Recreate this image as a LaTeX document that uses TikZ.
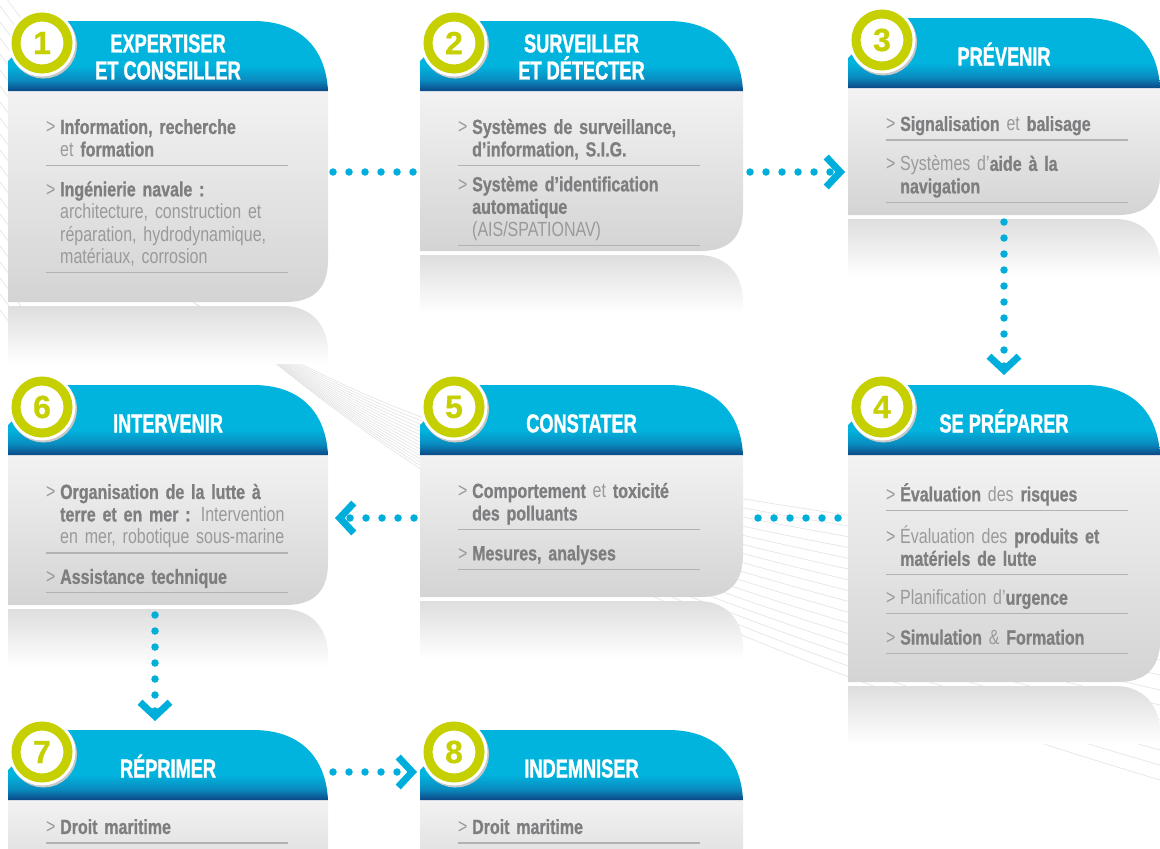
\documentclass[tikz,border=0pt]{standalone}
\usepackage{fontspec}
\setmainfont{Liberation Sans}[FakeStretch=0.78, BoldFeatures={FakeBold=0.8}]
\newfontfamily\titrefont{Liberation Sans}[FakeStretch=0.7, BoldFeatures={FakeBold=1.2}]
\newfontfamily\chiffrefont{Liberation Sans}[BoldFeatures={FakeBold=0.8}]
\usetikzlibrary{arrows.meta,positioning}

\definecolor{cyanvif}{HTML}{00B4DE}
\definecolor{bleumoyen}{HTML}{0A8CC0}
\definecolor{bleufonce}{HTML}{0C4886}
\definecolor{anis}{HTML}{C6D000}
\definecolor{gristexte}{HTML}{9A9A9C}
\definecolor{grisfonce}{HTML}{7E7E80}
\definecolor{pointcyan}{HTML}{00AEDB}

\pgfdeclareverticalshading{entete}{100bp}{color(0bp)=(bleufonce); color(25bp)=(bleufonce); color(33bp)=(bleumoyen); color(43bp)=(cyanvif); color(100bp)=(cyanvif)}

\newcommand\gras[1]{{\bfseries\color{grisfonce}#1}}

\tikzset{
  chevron/.tip={Straight Barb[length=14pt,width=30pt,line width=7pt,sharp]},
  trame/.style={draw=black!10, line width=0.7pt},
  reflet/.style={top color=black!13, bottom color=white},
  corps/.style={top color=black!5, bottom color=black!17},
  bandeau/.style={shading=entete},
  cadre/.style={rectangle, inner sep=0pt, outer sep=0pt, anchor=north west},
  numero/.style={circle, minimum size=52pt, inner sep=0pt, fill=white, draw=anis,
    line width=9pt, text=anis, font=\chiffrefont\bfseries\fontsize{32}{32}\selectfont,
    preaction={draw=black!22, line width=15pt, transform canvas={shift={(1.5pt,-2pt)}}},
    preaction={draw=white, line width=15pt}},
  titre/.style={text=white, align=center, font=\titrefont\bfseries\fontsize{26}{27}\selectfont,
    execute at begin node={\vphantom{É}}},
  puce/.style={anchor=north west, text width=250pt, inner xsep=0pt, inner ysep=2pt,
    text=gristexte, font=\fontsize{20.5}{22.5}\selectfont,
    execute at begin node={\raggedright\leftskip=14pt\relax\noindent\strut\hspace*{-14pt}\makebox[14pt][l]{>}},
    execute at end node={\strut}},
  filet/.style={draw=black!30, line width=1.3pt},
  pointille/.style={draw=pointcyan, line width=7.5pt, line cap=round, dash pattern=on 0pt off 16pt}
}

\newcommand\carte[7]{%
  \shade[reflet] ({#2},{#5+4}) -- ({#2+#4-45},{#5+4}) .. controls ({#2+#4-15},{#5+4}) and ({#2+#4},{#5+25}) .. ({#2+#4},{#5+50}) -- ({#2+#4},{#5+62}) -- ({#2},{#5+62}) -- cycle;
  \shade[corps] ({#2},{#3+70}) -- ({#2+#4},{#3+70}) -- ({#2+#4},{#5-42}) .. controls ({#2+#4},{#5-14}) and ({#2+#4-14},{#5}) .. ({#2+#4-42},{#5}) -- ({#2},{#5}) -- cycle;
  \shade[bandeau] ({#2},{#3+70}) -- ({#2},{#3+40}) -- ({#2+40},{#3}) -- ({#2+#4-75},{#3}) .. controls ({#2+#4-25},{#3}) and ({#2+#4-2},{#3+30}) .. ({#2+#4},{#3+70}) -- cycle;
  \node[cadre, minimum width={#4*1pt}, minimum height={(#5-#3)*1pt}] (#1) at (#2,#3) {};
  \node[numero] (#1-num) at ({#2+34},{#3+22}) {#6};
  \node[titre] (#1-titre) at ({#2+#4/2},{#3+36}) {#7};
  \coordinate (#1-haut) at ({#2+38},{#3+70});
}

\begin{document}
\begin{tikzpicture}[x=1pt,y=-1pt,node distance=13pt]
\useasboundingbox (0,0) rectangle (1160,849);
\clip (0,0) rectangle (1160,849);
\foreach \i in {0,...,20}
  \draw[trame] (0,{\i*16-10}) -- (24,{\i*16+22});
\foreach \i in {0,...,15}
  \draw[trame] ({190+\i*3},{300+\i*2}) .. controls (450,{465+\i*3}) and (660,{495+\i*9}) .. (1160,{555+\i*15});

\carte{expertiser}{8}{21}{320}{302}{1}{EXPERTISER\\ET CONSEILLER}
\carte{surveiller}{420}{21}{323}{251}{2}{SURVEILLER\\ET DÉTECTER}
\carte{prevenir}{848}{18}{312}{215}{3}{PRÉVENIR}
\carte{intervenir}{8}{385}{320}{605}{6}{INTERVENIR}
\carte{constater}{420}{385}{323}{597}{5}{CONSTATER}
\carte{preparer}{848}{385}{312}{682}{4}{SE PRÉPARER}
\carte{reprimer}{8}{730}{320}{900}{7}{RÉPRIMER}
\carte{indemniser}{420}{730}{323}{900}{8}{INDEMNISER}

\node[puce] (expertiser-a) at ([yshift=-25pt]expertiser-haut) {\gras{Information, recherche}\\et \gras{formation}};
\node[puce, below=of expertiser-a.south west, anchor=north west] (expertiser-b) {\gras{Ingénierie navale :}\\architecture, construction et\\réparation, hydrodynamique,\\matériaux, corrosion};

\node[puce] (surveiller-a) at ([yshift=-25pt]surveiller-haut) {\gras{Systèmes de surveillance,}\\\gras{d’information, S.I.G.}};
\node[puce, below=8pt of surveiller-a.south west, anchor=north west] (surveiller-b) {\gras{Système d’identification}\\\gras{automatique}\\(AIS/SPATIONAV)};

\node[puce] (prevenir-a) at ([yshift=-25pt]prevenir-haut) {\gras{Signalisation} et \gras{balisage}};
\node[puce, below=of prevenir-a.south west, anchor=north west] (prevenir-b) {Systèmes d’\gras{aide à la}\\\gras{navigation}};

\node[puce] (preparer-a) at ([yshift=-26pt]preparer-haut) {\gras{Évaluation} des \gras{risques}};
\node[puce, below=of preparer-a.south west, anchor=north west] (preparer-b) {Évaluation des \gras{produits et}\\\gras{matériels de lutte}};
\node[puce, below=12pt of preparer-b.south west, anchor=north west] (preparer-c) {Planification d’\gras{urgence}};
\node[puce, below=of preparer-c.south west, anchor=north west] (preparer-d) {\gras{Simulation} \& \gras{Formation}};

\node[puce] (constater-a) at ([yshift=-25pt]constater-haut) {\gras{Comportement} et \gras{toxicité}\\\gras{des polluants}};
\node[puce, below=of constater-a.south west, anchor=north west] (constater-b) {\gras{Mesures, analyses}};

\node[puce] (intervenir-a) at ([yshift=-26pt]intervenir-haut) {\gras{Organisation de la lutte à}\\\gras{terre et en mer :} Intervention\\en mer, robotique sous-marine};
\node[puce, below=of intervenir-a.south west, anchor=north west] (intervenir-b) {\gras{Assistance technique}};

\node[puce] (reprimer-a) at ([yshift=-16pt]reprimer-haut) {\gras{Droit maritime}};
\node[puce] (indemniser-a) at ([yshift=-16pt]indemniser-haut) {\gras{Droit maritime}};

\foreach \n in {expertiser-a,expertiser-b,surveiller-a,surveiller-b,prevenir-a,prevenir-b,preparer-a,preparer-b,preparer-c,preparer-d,constater-a,constater-b,intervenir-a,intervenir-b,reprimer-a,indemniser-a}
  \draw[filet] (\n.south west) -- ++(242,0);

\draw[pointille, shorten <=5pt, shorten >=5pt] (expertiser.east |- 0,172) -- (surveiller.west |- 0,172);
\draw[pointille, -chevron, shorten <=7pt, shorten >=3pt] (surveiller.east |- 0,172) -- (prevenir.west |- 0,172);
\draw[pointille, -chevron, shorten <=7pt, shorten >=10pt] (prevenir.south) -- (preparer.north);
\draw[pointille, shorten <=10pt, shorten >=5pt] (preparer.west |- 0,518) -- (constater.east |- 0,518);
\draw[pointille, -chevron, shorten <=6pt, shorten >=7pt] (constater.west |- 0,518) -- (intervenir.east |- 0,518);
\draw[pointille, -chevron, shorten <=10pt, shorten >=9pt] (intervenir.south -| 155,0) -- (reprimer.north -| 155,0);
\draw[pointille, -chevron, shorten <=5pt, shorten >=3pt] (reprimer.east |- 0,772) -- (indemniser.west |- 0,772);
\end{tikzpicture}
\end{document}
